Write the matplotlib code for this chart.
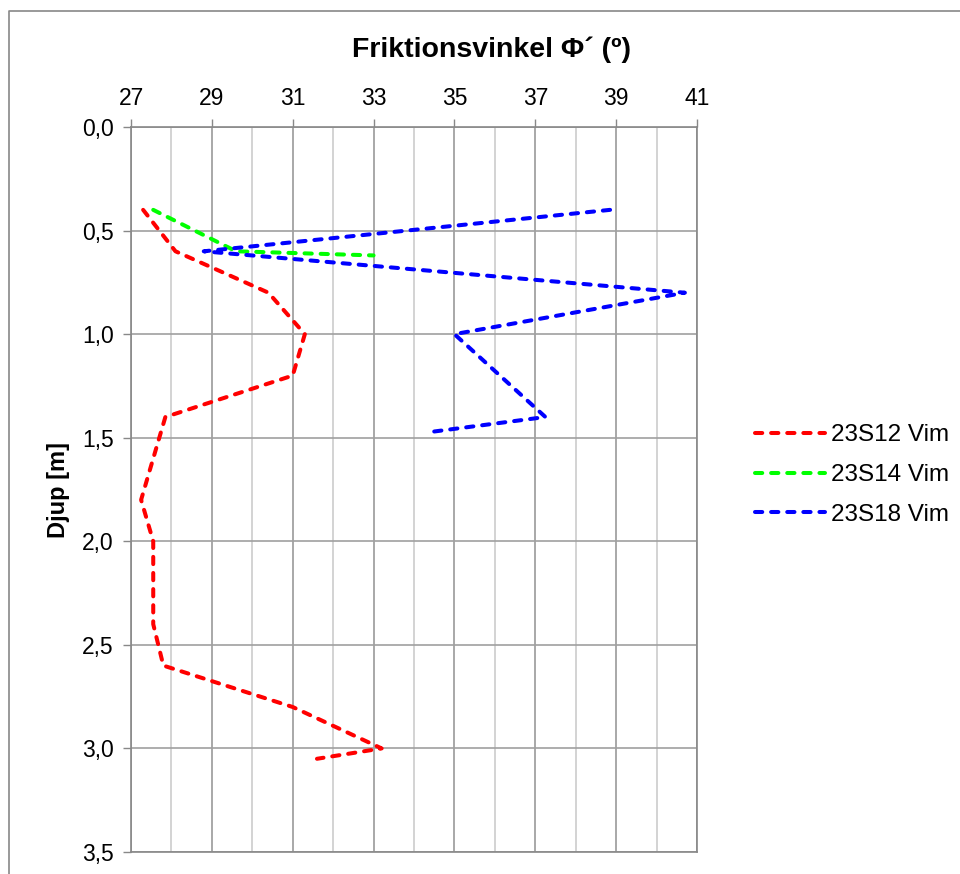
import matplotlib
matplotlib.use("Agg")
import matplotlib.pyplot as plt
from matplotlib.lines import Line2D
import numpy as np

plt.rcParams['font.family'] = ['Liberation Sans', 'DejaVu Sans']

# Data
red_x = [27.3, 28.1, 30.4, 31.3, 31.0, 27.85, 27.25, 27.55, 27.55, 27.8, 31.0, 33.2, 31.6]
red_y = [0.4, 0.6, 0.8, 1.0, 1.2, 1.4, 1.8, 2.0, 2.4, 2.6, 2.8, 3.0, 3.05]
green_x = [27.55, 29.6, 33.0]
green_y = [0.4, 0.6, 0.62]
blue_x = [38.85, 28.8, 40.7, 35.0, 37.25, 34.5]
blue_y = [0.4, 0.6, 0.8, 1.0, 1.4, 1.47]
series_names = ["23S12 Vim", "23S14 Vim", "23S18 Vim"]
x_ticks = [27, 29, 31, 33, 35, 37, 39, 41]
y_ticks = [0.0, 0.5, 1.0, 1.5, 2.0, 2.5, 3.0, 3.5]

W, H = 960, 874
fig = plt.figure(figsize=(W / 100, H / 100), dpi=100)
ax = fig.add_axes([131 / W, 1 - 852 / H, 566 / W, 725 / H])

dash = (1.8, 2.2)
lw = 2.9
common = dict(lw=lw, dashes=dash, dash_capstyle='round', zorder=3)
ax.plot(red_x, red_y, color='#FF0000', label=series_names[0], **common)
ax.plot(green_x, green_y, color='#00FF00', label=series_names[1], **common)
ax.plot(blue_x, blue_y, color='#0000FF', label=series_names[2], **common)

ax.set_xlim(27, 41)
ax.set_ylim(3.5, 0.0)
ax.xaxis.tick_top()
ax.set_xticks(x_ticks)
ax.set_xticks(np.arange(27, 42, 1), minor=True)
ax.set_yticks(y_ticks)
ax.set_yticklabels([f"{v:.1f}".replace('.', ',') for v in y_ticks])
ax.tick_params(axis='x', which='major', length=6, width=1, color='#888888', pad=6, labelsize=16.5)
ax.tick_params(axis='x', which='minor', length=0)
ax.tick_params(axis='y', which='major', length=6, width=1, color='#888888', pad=6.5, labelsize=16.5)

# Grid
for v in np.arange(27, 42, 1):
    c = '#999999' if int(v) % 2 == 1 else '#cccccc'
    ax.axvline(v, color=c, lw=1.2, zorder=1)
for v in y_ticks:
    ax.axhline(v, color='#a0a0a0', lw=1.2, zorder=1)
for s in ax.spines.values():
    s.set_color('#888888')
    s.set_linewidth(1.2)

fig.text(491 / W, 1 - 57 / H, "Friktionsvinkel Φ´ (º)", ha='center', va='baseline',
         fontsize=20.5, fontweight='bold')
fig.text(59 / W, 1 - 490 / H, "Djup [m]", ha='center', va='center', rotation=90,
         fontsize=17, fontweight='bold')

leg = ax.legend(loc='center left', bbox_to_anchor=(733 / W, 1 - 475 / H),
                bbox_transform=fig.transFigure, frameon=False, fontsize=17.5,
                handlelength=2.9, handletextpad=0.24, labelspacing=0.72)

# Outer chart border
fig.add_artist(Line2D([9 / W, 9 / W, 1.0], [0.0, 1 - 11 / H, 1 - 11 / H],
                      transform=fig.transFigure, color='#888888', lw=1.2))

fig.savefig("out.png", dpi=100)
